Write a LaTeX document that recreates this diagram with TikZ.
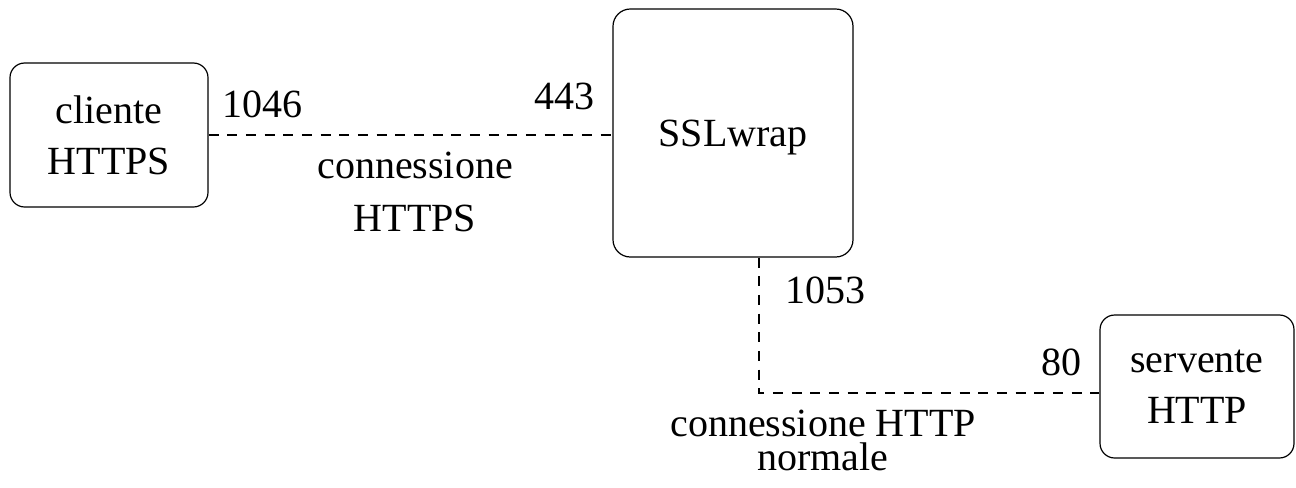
\documentclass[tikz,border=0pt]{standalone}
\usepackage{fontspec}
\setmainfont{Liberation Serif}
\usetikzlibrary{calc}
\begin{document}
\begin{tikzpicture}[x=0.75pt,y=-0.75pt,
  box/.style={draw, line width=0.9pt, rounded corners=11pt, inner sep=0pt, align=center, font=\fontsize{30}{38.25}\selectfont},
  conn/.style={line width=1.4pt, dash pattern=on 7.5pt off 6.5pt},
  lbl/.style={inner sep=0pt, font=\fontsize{30}{36}\selectfont}]
\useasboundingbox (0,0) rectangle (1296,487);
\node[box, minimum width=148.5pt, minimum height=108pt] (client) at (109,135) {cliente\\HTTPS};
\node[box, rounded corners=13pt, text depth=0pt, minimum width=180pt, minimum height=186pt] (ssl) at (733,133) {SSLwrap};
\node[box, minimum width=145.5pt, minimum height=107.25pt] (server) at (1197,386.5) {servente\\HTTP};
\draw[conn] (client.east) -- (client.east -| ssl.west);
\coordinate (sslout) at ($(ssl.south)+(26,0)$);
\coordinate (srvin) at ($(server.west)+(0,6.5)$);
\draw[conn] (sslout) |- (srvin);
\node[lbl, anchor=base west] (p1046) at (222,117) {1046};
\node[lbl, anchor=base east] (p443) at (595,109) {443};
\node[lbl, anchor=base west] (p1053) at (785,303) {1053};
\node[lbl, anchor=base east] (p80) at (1082,375) {80};
\node[lbl, align=center, font=\fontsize{30}{39.75}\selectfont] (c1) at (415,192) {connessione\\HTTPS};
\node[lbl, align=center, font=\fontsize{30}{25.5}\selectfont] (c2) at (823,440.5) {connessione HTTP\\normale};
\end{tikzpicture}
\end{document}
